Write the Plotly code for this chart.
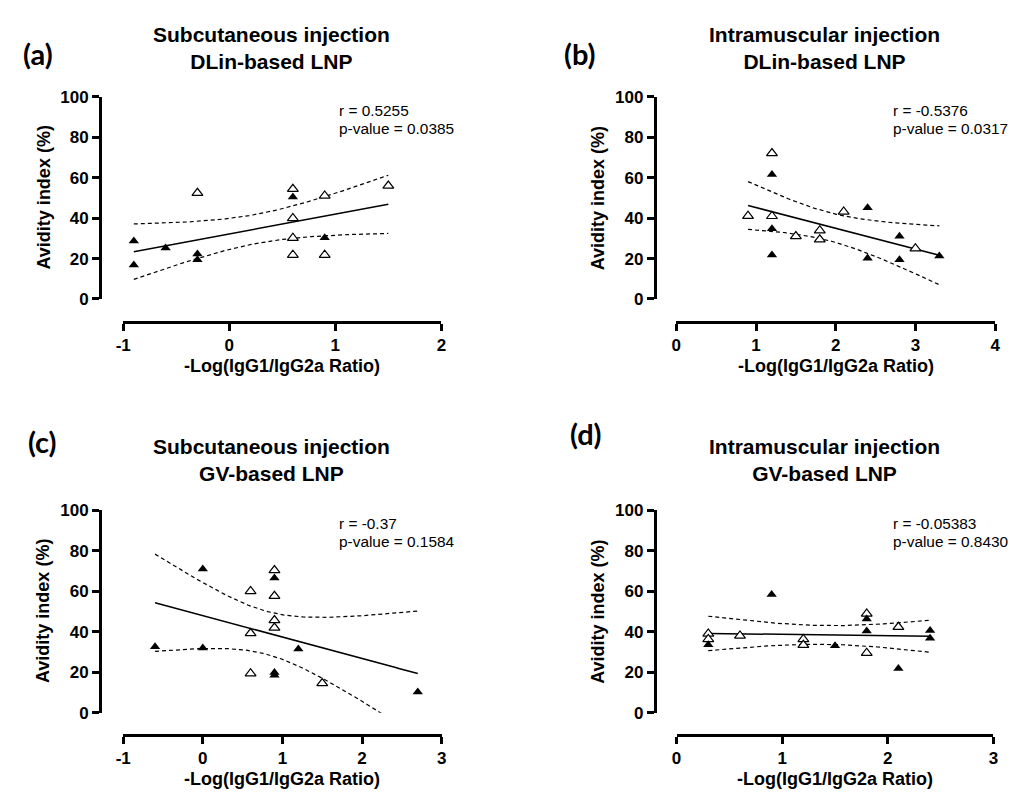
import numpy as np
import plotly.graph_objects as go

W, H = 1011, 805

# ---------------- data ----------------
a_x_filled = [-0.9, -0.9, -0.6, -0.3, -0.3, 0.6, 0.9]
a_y_filled = [28.7, 16.8, 25.2, 22.3, 19.4, 50.5, 30.3]
a_x_open = [-0.3, 0.6, 0.6, 0.6, 0.6, 0.9, 0.9, 1.5]
a_y_open = [52.4, 54.4, 40.0, 30.2, 21.8, 51.1, 21.8, 56.0]

b_x_filled = [1.2, 1.2, 1.2, 2.4, 2.4, 2.8, 2.8, 3.3]
b_y_filled = [61.6, 34.7, 21.8, 45.2, 20.2, 31.0, 19.4, 21.3]
b_x_open = [0.9, 1.2, 1.2, 1.5, 1.8, 1.8, 2.1, 3.0]
b_y_open = [41.1, 72.1, 41.0, 31.0, 33.9, 29.4, 43.2, 25.0]

c_x_filled = [-0.6, 0.0, 0.0, 0.9, 0.9, 0.9, 1.2, 2.7]
c_y_filled = [32.6, 71.0, 31.9, 66.5, 19.8, 18.5, 31.5, 10.2]
c_x_open = [0.6, 0.6, 0.6, 0.9, 0.9, 0.9, 0.9, 1.5]
c_y_open = [60.0, 39.2, 19.4, 70.3, 57.6, 45.6, 41.9, 14.5]

d_x_filled = [0.3, 0.9, 1.5, 1.8, 1.8, 2.1, 2.4, 2.4]
d_y_filled = [33.5, 58.4, 33.0, 46.3, 40.3, 21.8, 40.6, 36.8]
d_x_open = [0.3, 0.3, 0.6, 1.2, 1.2, 1.8, 1.8, 2.1]
d_y_open = [39.0, 36.3, 38.0, 36.3, 33.4, 48.9, 29.5, 42.3]

panel_labels = ["(a)", "(b)", "(c)", "(d)"]
panel_titles = ["Subcutaneous injection<br>DLin-based LNP",
                "Intramuscular injection<br>DLin-based LNP",
                "Subcutaneous injection<br>GV-based LNP",
                "Intramuscular injection<br>GV-based LNP"]
r_texts = ["r = 0.5255", "r = -0.5376", "r = -0.37", "r = -0.05383"]
p_texts = ["p-value = 0.0385", "p-value = 0.0317", "p-value = 0.1584", "p-value = 0.8430"]
x_ranges = [[-1, 2], [0, 4], [-1, 3], [0, 3]]
x_ticks = [[-1, 0, 1, 2], [0, 1, 2, 3, 4], [-1, 0, 1, 2, 3], [0, 1, 2, 3]]
y_ticks = [0, 20, 40, 60, 80, 100]
x_title = "-Log(IgG1/IgG2a Ratio)"
y_title = "Avidity index (%)"

# t critical values (two-sided 95%) by degrees of freedom
T_CRIT = {12: 2.1788, 13: 2.1604, 14: 2.1448, 15: 2.1314}

# ---------------- layout helpers (pixels) ----------------
def px(x):
    return x / W

def py(y):
    return 1 - y / H

geom = [
    dict(xd=(116.7, 439.0), yd=(90.0, 297.0), yline=93.0, xline=320.7, tcx=267, tcy=39.5, lx=30, ly=46, ax=333, ay=104),
    dict(xd=(677.0, 1000.0), yd=(90.0, 297.0), yline=655.0, xline=320.7, tcx=827, tcy=39.5, lx=579, ly=46, ax=895, ay=104),
    dict(xd=(116.7, 439.3), yd=(513.3, 720.7), yline=93.0, xline=743.3, tcx=267, tcy=462, lx=35, ly=443, ax=333, ay=527),
    dict(xd=(677.3, 998.3), yd=(513.3, 720.7), yline=655.0, xline=743.3, tcx=827, tcy=462, lx=586, ly=435, ax=895, ay=527),
]

data = [
    (a_x_filled, a_y_filled, a_x_open, a_y_open),
    (b_x_filled, b_y_filled, b_x_open, b_y_open),
    (c_x_filled, c_y_filled, c_x_open, c_y_open),
    (d_x_filled, d_y_filled, d_x_open, d_y_open),
]

fig = go.Figure()
ann = []
FONT = "Liberation Sans, Arial, sans-serif"

for i, (xf, yf, xo, yo) in enumerate(data):
    k = "" if i == 0 else str(i + 1)
    xa, ya = "x" + k, "y" + k
    g = geom[i]
    x = np.array(xf + xo, dtype=float)
    y = np.array(yf + yo, dtype=float)
    n = len(x)
    xm, ym = x.mean(), y.mean()
    sxx = ((x - xm) ** 2).sum()
    slope = ((x - xm) * (y - ym)).sum() / sxx
    inter = ym - slope * xm
    resid = y - (inter + slope * x)
    s = np.sqrt((resid ** 2).sum() / (n - 2))
    t = T_CRIT[n - 2]
    xs = np.linspace(x.min(), x.max(), 120)
    yh = inter + slope * xs
    half = t * s * np.sqrt(1 / n + (xs - xm) ** 2 / sxx)

    for band in (yh + half, yh - half):
        fig.add_trace(go.Scatter(x=xs, y=band, mode="lines", xaxis=xa, yaxis=ya,
                                 line=dict(color="black", width=1.2, dash="4px,3px"),
                                 showlegend=False, hoverinfo="skip"))
    fig.add_trace(go.Scatter(x=xs, y=yh, mode="lines", xaxis=xa, yaxis=ya,
                             line=dict(color="black", width=1.5),
                             showlegend=False, hoverinfo="skip"))
    fig.add_trace(go.Scatter(x=xo, y=yo, mode="markers", xaxis=xa, yaxis=ya, cliponaxis=False,
                             marker=dict(symbol="triangle-up", size=9.5, color="white",
                                         line=dict(color="black", width=1.2)),
                             showlegend=False))
    fig.add_trace(go.Scatter(x=xf, y=yf, mode="markers", xaxis=xa, yaxis=ya, cliponaxis=False,
                             marker=dict(symbol="triangle-up", size=9, color="black",
                                         line=dict(width=0)),
                             showlegend=False))

    axis_common = dict(showline=True, linecolor="black", linewidth=2.5, ticks="outside",
                       ticklen=7, tickwidth=2.5, tickcolor="black", showgrid=False,
                       zeroline=False, anchor="free",
                       tickfont=dict(family=FONT, size=17, color="black", weight="bold"))
    fig.layout["xaxis" + k] = dict(axis_common, domain=[px(g["xd"][0]), px(g["xd"][1])],
                                   range=x_ranges[i], tickvals=x_ticks[i],
                                   ticktext=[str(v) for v in x_ticks[i]],
                                   position=py(g["xline"]))
    fig.layout["yaxis" + k] = dict(axis_common, domain=[py(g["yd"][1]), py(g["yd"][0])],
                                   range=[0, 100], tickvals=y_ticks,
                                   ticktext=[str(v) for v in y_ticks],
                                   position=px(g["yline"]))

    ann.append(dict(text=x_title, x=px((g["xd"][0] + g["xd"][1]) / 2), y=py(g["xline"] + 45),
                    xref="paper", yref="paper", showarrow=False, xanchor="center", yanchor="middle",
                    font=dict(family=FONT, size=18, color="black", weight="bold")))
    ann.append(dict(text=y_title, x=px(g["yline"] - 57), y=py((g["yd"][0] + g["yd"][1]) / 2),
                    xref="paper", yref="paper", showarrow=False, xanchor="center", yanchor="middle",
                    textangle=-90,
                    font=dict(family=FONT, size=18, color="black", weight="bold")))
    ann.append(dict(text=panel_titles[i], x=px(g["tcx"]), y=py(g["tcy"]),
                    xref="paper", yref="paper", showarrow=False, xanchor="center", yanchor="middle",
                    font=dict(family=FONT, size=21, color="black", weight="bold")))
    ann.append(dict(text=panel_labels[i], x=px(g["lx"]), y=py(g["ly"]),
                    xref="paper", yref="paper", showarrow=False, xanchor="center", yanchor="middle",
                    font=dict(family="Lato, Open Sans, sans-serif", size=29, color="black", weight="bold")))
    ann.append(dict(text=r_texts[i], x=px(g["ax"]), y=py(g["ay"]),
                    xref="paper", yref="paper", showarrow=False, xanchor="left", yanchor="middle",
                    font=dict(family=FONT, size=15.4, color="black")))
    ann.append(dict(text=p_texts[i], x=px(g["ax"]), y=py(g["ay"] + 18.7),
                    xref="paper", yref="paper", showarrow=False, xanchor="left", yanchor="middle",
                    font=dict(family=FONT, size=15.4, color="black")))

fig.update_layout(width=W, height=H, margin=dict(l=0, r=0, t=0, b=0),
                  paper_bgcolor="white", plot_bgcolor="white", showlegend=False,
                  annotations=ann)

fig.write_html("out.html", config={"displayModeBar": False},
               post_script="document.body.style.margin='0px';document.body.style.padding='0px';"
                           "document.body.style.overflow='hidden';")
